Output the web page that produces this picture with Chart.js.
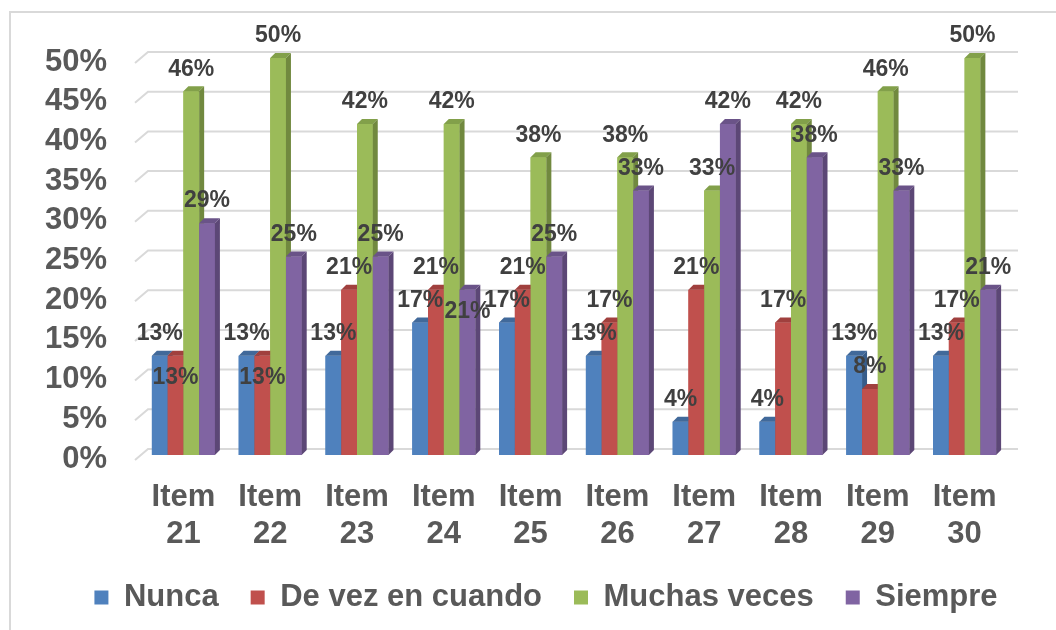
<!DOCTYPE html>
<html>
<head>
<meta charset="utf-8">
<script src="https://cdn.jsdelivr.net/npm/chart.js@4/dist/chart.umd.min.js"></script>
<style>
  html, body { margin: 0; padding: 0; background: #fff; }
  #wrap { position: relative; width: 1056px; height: 630px; overflow: hidden; }
  #frame { position: absolute; left: 9px; top: 11px; width: 1100px; height: 700px;
           border-top: 2px solid #d9d9d9; border-left: 2px solid #d9d9d9; }
  canvas { position: absolute; left: 0; top: 0; }
</style>
</head>
<body>
<div id="wrap">
  <div id="frame"></div>
  <canvas id="chart" width="1056" height="630"></canvas>
</div>
<script>
const items = ["21", "22", "23", "24", "25", "26", "27", "28", "29", "30"];
const nunca = [12.5, 12.5, 12.5, 16.7, 16.7, 12.5, 4.2, 4.2, 12.5, 12.5];
const deVez = [12.5, 12.5, 20.8, 20.8, 20.8, 16.7, 20.8, 16.7, 8.3, 16.7];
const muchas = [45.8, 50, 41.7, 41.7, 37.5, 37.5, 33.3, 41.7, 45.8, 50];
const siempre = [29.2, 25, 25, 20.8, 25, 33.3, 41.7, 37.5, 33.3, 20.8];
const yTicks = [0, 5, 10, 15, 20, 25, 30, 35, 40, 45, 50];

const FONT = "'Liberation Sans', Arial, sans-serif";
const DEPTH = 5;

// front, side, top colours
const shades = [
  ["#4f81bd", "#385d8a", "#41699a"],
  ["#c0504d", "#8c3836", "#a0403e"],
  ["#9bbb59", "#71893f", "#82a04a"],
  ["#8064a2", "#5c4776", "#6a5388"],
];

// back wall gridlines with a small perspective stub at the left
const grid3d = {
  id: "grid3d",
  beforeDatasetsDraw(chart) {
    const { ctx, chartArea } = chart;
    const y = chart.scales.y;
    ctx.save();
    ctx.strokeStyle = "#d9d9d9";
    ctx.lineWidth = 2;
    yTicks.forEach(v => {
      const py = y.getPixelForValue(v);
      ctx.beginPath();
      ctx.moveTo(chartArea.left - 5, py + 5);
      ctx.lineTo(chartArea.left + 8, py - 6);
      ctx.lineTo(chartArea.right + 10, py - 6);
      ctx.stroke();
    });
    ctx.restore();
  },
};

// legend centred under the whole frame rather than the padded area
const legendPlace = {
  id: "legendPlace",
  afterLayout(chart) {
    chart.legend.left = 36;
    chart.legend.right = 1056;
  },
};

// bars redrawn left to right with side and top faces, then value labels
const bars3d = {
  id: "bars3d",
  afterDatasetsDraw(chart) {
    const { ctx } = chart;
    const metas = chart.data.datasets.map((d, i) => chart.getDatasetMeta(i));
    ctx.save();
    for (let j = 0; j < items.length; j++) {
      metas.forEach((meta, i) => {
        const el = meta.data[j];
        const { x, y, base, width } = el.getProps(["x", "y", "base", "width"], true);
        const l = x - width / 2, r = x + width / 2;
        el.draw(ctx);
        ctx.fillStyle = shades[i][2];
        ctx.beginPath();
        ctx.moveTo(l, y);
        ctx.lineTo(l + DEPTH, y - DEPTH);
        ctx.lineTo(r + DEPTH, y - DEPTH);
        ctx.lineTo(r, y);
        ctx.closePath();
        ctx.fill();
        ctx.fillStyle = shades[i][1];
        ctx.beginPath();
        ctx.moveTo(r, y);
        ctx.lineTo(r + DEPTH, y - DEPTH);
        ctx.lineTo(r + DEPTH, base - DEPTH);
        ctx.lineTo(r, base);
        ctx.closePath();
        ctx.fill();
      });
    }

    ctx.font = "bold 23px " + FONT;
    ctx.fillStyle = "#404040";
    ctx.textAlign = "center";
    ctx.textBaseline = "middle";
    for (let j = 0; j < items.length; j++) {
      const placed = [];
      metas.forEach((meta, i) => {
        const el = meta.data[j];
        const { x, y } = el.getProps(["x", "y"], true);
        const txt = Math.round(chart.data.datasets[i].data[j]) + "%";
        const w = ctx.measureText(txt).width;
        let cy = y - 22;
        const hit = placed.some(p => Math.abs(p.x - x) < (p.w + w) / 2 - 6 && Math.abs(p.y - cy) < 18);
        if (hit) cy = y + 22;
        placed.push({ x, y: cy, w });
        ctx.fillText(txt, x, cy);
      });
    }
    ctx.restore();
  },
};

new Chart(document.getElementById("chart"), {
  type: "bar",
  data: {
    labels: items.map(n => ["Item", n]),
    datasets: [
      { label: "Nunca", data: nunca, backgroundColor: shades[0][0] },
      { label: "De vez en cuando", data: deVez, backgroundColor: shades[1][0] },
      { label: "Muchas veces", data: muchas, backgroundColor: shades[2][0] },
      { label: "Siempre", data: siempre, backgroundColor: shades[3][0] },
    ],
  },
  options: {
    responsive: false,
    animation: false,
    layout: { padding: { left: 0, right: 48, top: 58, bottom: 7 } },
    datasets: { bar: { categoryPercentage: 0.726, barPercentage: 1, borderWidth: 0 } },
    plugins: {
      tooltip: { enabled: false },
      legend: {
        position: "bottom",
        labels: {
          boxWidth: 14,
          boxHeight: 14,
          padding: 32,
          color: "#595959",
          font: { family: FONT, size: 31, weight: "bold" },
        },
      },
    },
    scales: {
      x: {
        grid: { display: false, drawTicks: false },
        border: { display: false },
        ticks: {
          autoSkip: false,
          maxRotation: 0,
          padding: 24,
          color: "#595959",
          font: { family: FONT, size: 31, weight: "bold", lineHeight: 1.2 },
        },
        afterFit: s => { s.height = 95; },
      },
      y: {
        min: 0,
        max: 50,
        grid: { display: false, drawTicks: false },
        border: { display: false },
        ticks: {
          stepSize: 5,
          autoSkip: false,
          padding: 33,
          labelOffset: 4,
          color: "#595959",
          font: { family: FONT, size: 31, weight: "bold" },
          callback: v => v + "%",
        },
        afterFit: s => { s.width = 140; },
      },
    },
  },
  plugins: [grid3d, legendPlace, bars3d],
});
</script>
</body>
</html>
